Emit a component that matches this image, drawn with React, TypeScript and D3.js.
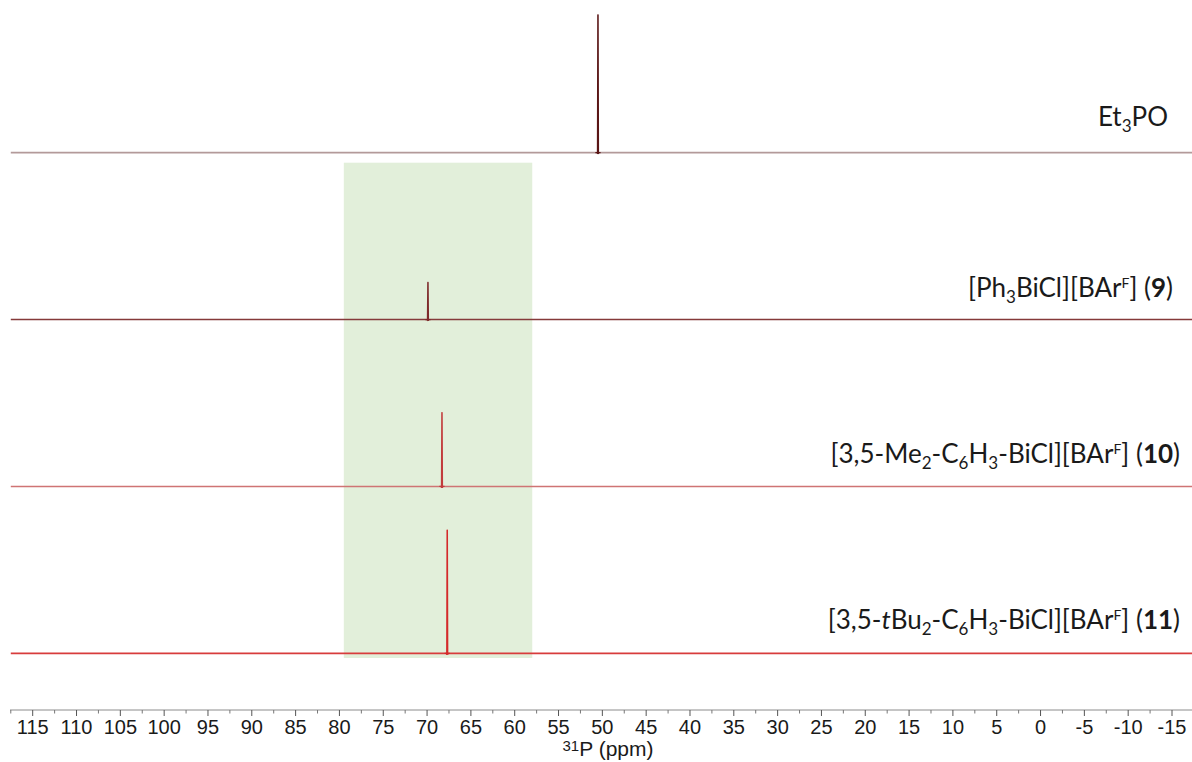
import React from "react";
import * as d3 from "d3";

// 31P NMR stack: chemical shift (ppm) of each observed resonance and its relative intensity
const sampleIds = ["et3po", "bi9", "bi10", "bi11"];
const peakShifts = [50.5, 69.9, 68.3, 67.7];
const peakHeights = [100, 26.9, 53.6, 89.5];
const baseColors = ["#b39a9a", "#853a3a", "#cf7474", "#d83c3c"];
const peakColors = ["#5a1616", "#7e2b2b", "#c23c3c", "#d42a2a"];

// Shaded window of interest (ppm)
const highlightRange = [79.5, 58.0];

// Axis ticks (ppm)
const majorTicks = [115, 110, 105, 100, 95, 90, 85, 80, 75, 70, 65, 60, 55, 50, 45, 40, 35, 30, 25, 20, 15, 10, 5, 0, -5, -10, -15];
const minorTicks = [117.5, 112.5, 107.5, 102.5, 97.5, 92.5, 87.5, 82.5, 77.5, 72.5, 67.5, 62.5, 57.5, 52.5, 47.5, 42.5, 37.5, 32.5, 27.5, 22.5, 17.5, 12.5, 7.5, 2.5, -2.5, -7.5, -12.5];

// Sharp line (ppm, intensity) with a slight dip at its foot
function peakTrace(shift: number, height: number): [number, number][] {
  return [
    [shift + 0.3, 0],
    [shift + 0.12, 0],
    [shift + 0.06, -0.7],
    [shift + 0.02, height],
    [shift - 0.02, height],
    [shift - 0.06, -0.7],
    [shift - 0.12, 0],
    [shift - 0.3, 0],
  ];
}

const W = 1192;
const H = 762;

const x = d3.scaleLinear().domain([115, -15]).range([32.7, 1172]);
const rowY = d3.scalePoint<string>().domain(sampleIds).range([152.6, 653.4]);
const yInt = d3.scaleLinear().domain([0, 100]).range([0, -137.8]);

const labelFont = "Lato, 'Open Sans', sans-serif";
const axisFont = "'Liberation Sans', Arial, sans-serif";

export default function App() {
  const line = d3
    .line<[number, number]>()
    .x((d) => x(d[0]))
    .y((d) => yInt(d[1]));

  const axisY = 710;
  const fs = 26;
  const sub = { fontSize: 17 };
  const supFs = 14;

  return (
    <svg
      width={W}
      height={H}
      viewBox={`0 0 ${W} ${H}`}
      style={{ position: "absolute", left: 0, top: 0, background: "#fff" }}
    >
      <rect x={0} y={0} width={W} height={H} fill="#fff" />

      {/* highlighted shift window */}
      <rect
        x={x(highlightRange[0])}
        y={162.7}
        width={x(highlightRange[1]) - x(highlightRange[0])}
        height={658 - 162.7}
        fill="#e2efda"
      />

      {/* stacked spectra */}
      {sampleIds.map((id, i) => (
        <g key={id} transform={`translate(0,${rowY(id)})`}>
          <path
            d={line([[117.5, 0], [-18, 0]]) || ""}
            fill="none"
            stroke={baseColors[i]}
            strokeWidth={1.6}
          />
          <path
            d={line(peakTrace(peakShifts[i], peakHeights[i])) || ""}
            fill="none"
            stroke={peakColors[i]}
            strokeWidth={1.2}
            strokeLinejoin="round"
          />
        </g>
      ))}

      {/* sample labels */}
      <g fontFamily={labelFont} fill="#1a1a1a" fontSize={fs}>
        <text x={1168} y={126} textAnchor="end">
          <tspan>Et</tspan>
          <tspan dy={6} style={sub}>3</tspan>
          <tspan dy={-6}>PO</tspan>
        </text>
        <text x={1173} y={297.3} textAnchor="end">
          <tspan>[Ph</tspan>
          <tspan dy={6} style={sub}>3</tspan>
          <tspan dy={-6}>BiCl][BAr</tspan>
          <tspan dy={-9} fontSize={supFs}>F</tspan>
          <tspan dy={9}>] (</tspan>
          <tspan fontWeight="bold">9</tspan>
          <tspan>)</tspan>
        </text>
        <text x={1180} y={463.3} textAnchor="end">
          <tspan>[3,5-Me</tspan>
          <tspan dy={6} style={sub}>2</tspan>
          <tspan dy={-6}>-C</tspan>
          <tspan dy={6} style={sub}>6</tspan>
          <tspan dy={-6}>H</tspan>
          <tspan dy={6} style={sub}>3</tspan>
          <tspan dy={-6}>-BiCl][BAr</tspan>
          <tspan dy={-9} fontSize={supFs}>F</tspan>
          <tspan dy={9}>] (</tspan>
          <tspan fontWeight="bold">10</tspan>
          <tspan>)</tspan>
        </text>
        <text x={1180} y={629} textAnchor="end">
          <tspan>[3,5-</tspan>
          <tspan fontStyle="italic">t</tspan>
          <tspan>Bu</tspan>
          <tspan dy={6} style={sub}>2</tspan>
          <tspan dy={-6}>-C</tspan>
          <tspan dy={6} style={sub}>6</tspan>
          <tspan dy={-6}>H</tspan>
          <tspan dy={6} style={sub}>3</tspan>
          <tspan dy={-6}>-BiCl][BAr</tspan>
          <tspan dy={-9} fontSize={supFs}>F</tspan>
          <tspan dy={9}>] (</tspan>
          <tspan fontWeight="bold">11</tspan>
          <tspan>)</tspan>
        </text>
      </g>

      {/* chemical shift axis */}
      <g fontFamily={axisFont}>
        <line x1={10} x2={W} y1={axisY} y2={axisY} stroke="#8c8c8c" strokeWidth={1} />
        {majorTicks.map((t) => (
          <g key={`M${t}`} transform={`translate(${x(t)},0)`}>
            <line y1={axisY} y2={axisY + 6} stroke="#555" strokeWidth={1} />
            <text y={734} textAnchor="middle" fontSize={20} fill="#1a1a1a">
              {t}
            </text>
          </g>
        ))}
        {minorTicks.map((t) => (
          <line
            key={`m${t}`}
            x1={x(t)}
            x2={x(t)}
            y1={axisY}
            y2={axisY + 3.5}
            stroke="#777"
            strokeWidth={1}
          />
        ))}
        <text x={608} y={756} textAnchor="middle" fill="#1a1a1a" fontSize={21}>
          <tspan fontSize={15} dy={-5}>31</tspan>
          <tspan dy={5}>P (ppm)</tspan>
        </text>
      </g>
    </svg>
  );
}
